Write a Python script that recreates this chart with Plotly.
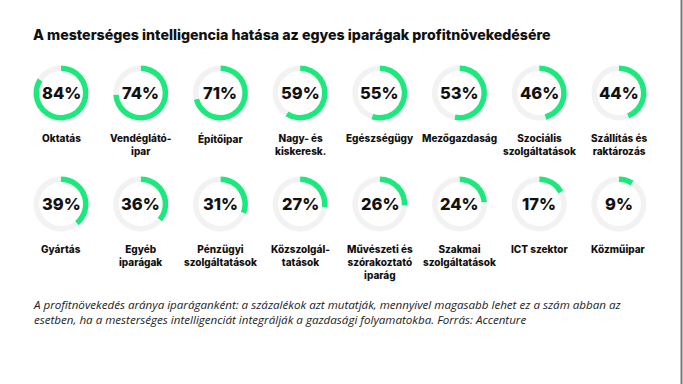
import plotly.graph_objects as go

W, H = 683, 384

title = "A mesterséges intelligencia hatása az egyes iparágak profitnövekedésére"
categories = [
    "Oktatás", "Vendéglátó-<br>ipar", "Építőipar", "Nagy- és<br>kiskeresk.",
    "Egészségügy", "Mezőgazdaság", "Szociális<br>szolgáltatások", "Szállítás és<br>raktározás",
    "Gyártás", "Egyéb<br>iparágak", "Pénzügyi<br>szolgáltatások", "Közszolgál-<br>tatások",
    "Művészeti és<br>szórakoztató<br>iparág", "Szakmai<br>szolgáltatások", "ICT szektor", "Közműipar",
]
values = [84, 74, 71, 59, 55, 53, 46, 44, 39, 36, 31, 27, 26, 24, 17, 9]
caption = ("A profitnövekedés aránya iparáganként: a százalékok azt mutatják, mennyivel magasabb lehet ez a szám abban az<br>"
           "esetben, ha a mesterséges intelligenciát integrálják a gazdasági folyamatokba. Forrás: Accenture")

GREEN = "#1de87c"
TRACK = "#f2f2f2"

col_x = [61 + i * 79.7 for i in range(8)]
row_y = [93, 204]
label_y = [130, 241]
R = 27.5

fig = go.Figure()
annotations = []
for i, (cat, v) in enumerate(zip(categories, values)):
    r, c = divmod(i, 8)
    cx, cy = col_x[c], row_y[r]
    fig.add_trace(go.Pie(
        values=[v, 100 - v],
        sort=False, direction="clockwise", rotation=0,
        hole=0.8, textinfo="none", hoverinfo="skip",
        marker=dict(colors=[GREEN, TRACK], line=dict(width=0)),
        domain=dict(x=[(cx - R) / W, (cx + R) / W], y=[1 - (cy + R) / H, 1 - (cy - R) / H]),
        showlegend=False,
    ))
    annotations.append(dict(
        x=cx / W, y=1 - cy / H, xref="paper", yref="paper",
        text=f"{v}%", showarrow=False, xanchor="center", yanchor="middle",
        font=dict(family="Inter, Roboto, sans-serif", size=16.5, color="#111", weight=800),
    ))
    annotations.append(dict(
        x=cx / W, y=1 - label_y[r] / H, xref="paper", yref="paper",
        text=cat, showarrow=False, xanchor="center", yanchor="top",
        align="center",
        font=dict(family="Inter, Roboto, sans-serif", size=10, color="#111", weight=800),
    ))

annotations.append(dict(
    x=31 / W, y=1 - 24 / H, xref="paper", yref="paper", text=title,
    showarrow=False, xanchor="left", yanchor="top",
    font=dict(family="Inter, Roboto, sans-serif", size=14.2, color="#111", weight=800),
))
annotations.append(dict(
    x=31 / W, y=1 - 295 / H, xref="paper", yref="paper", text=f"<i>{caption}</i>",
    showarrow=False, xanchor="left", yanchor="top", align="left",
    font=dict(family="Open Sans, sans-serif", size=11.6, color="#222"),
))

fig.update_layout(
    width=W, height=H, margin=dict(l=0, r=0, t=0, b=0),
    paper_bgcolor="white", plot_bgcolor="white",
    annotations=annotations,
    shapes=[dict(type="line", xref="paper", yref="paper", x0=681.5 / W, x1=681.5 / W, y0=0, y1=1,
                 line=dict(color="#777", width=2))],
)
fig.write_html("out.html", config={"displayModeBar": False},
               post_script="document.body.style.margin='0';document.body.style.overflow='hidden';")
